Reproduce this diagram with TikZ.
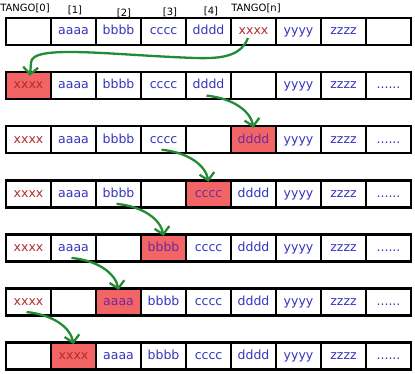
\documentclass[tikz,border=0pt]{standalone}
\usepackage{fontspec}
\setmainfont{DejaVu Sans}
\usetikzlibrary{arrows.meta, calc}

\definecolor{itemblue}{RGB}{52,52,190}
\definecolor{oldred}{RGB}{178,45,45}
\definecolor{hotfill}{RGB}{243,100,100}
\definecolor{hotpurple}{RGB}{112,40,160}
\definecolor{movegreen}{RGB}{34,139,52}

\newcommand{\sixdots}{......}

\tikzset{
  cell/.style={draw, line width=2.6pt, minimum width=45pt, minimum height=27pt,
    inner sep=0pt, text height=9.2pt, text depth=2.4pt, font=\fontsize{12.5}{14}\selectfont},
  itm/.style={text=itemblue},
  old/.style={text=oldred},
  hot/.style={fill=hotfill, text=hotpurple},
  hotold/.style={fill=hotfill, text=oldred},
  idx/.style={font=\fontsize{10}{12}\selectfont, inner sep=0pt},
  move/.style={draw=movegreen, line width=2.3pt, -{Straight Barb[length=7pt, width=15pt]}}
}

\begin{document}
\begin{tikzpicture}[x=1pt, y=-1pt]
    \useasboundingbox (0,0) rectangle (415,374);

    % Index labels
    \node[idx] (lab0) at (25,8.5) {TANGO[0]};
    \node[idx] (lab1) at (75,10.5) {[1]};
    \node[idx] (lab2) at (124,13) {[2]};
    \node[idx] (lab3) at (170,12) {[3]};
    \node[idx] (lab4) at (211,11) {[4]};
    \node[idx] (labn) at (256,8.5) {TANGO[n]};

    % Rows of cells
    \foreach \r/\cells in {
        1/{/itm, aaaa/itm, bbbb/itm, cccc/itm, dddd/itm, xxxx/old, yyyy/itm, zzzz/itm, /itm},
        2/{xxxx/hotold, aaaa/itm, bbbb/itm, cccc/itm, dddd/itm, /itm, yyyy/itm, zzzz/itm, \sixdots/itm},
        3/{xxxx/old, aaaa/itm, bbbb/itm, cccc/itm, /itm, dddd/hot, yyyy/itm, zzzz/itm, \sixdots/itm},
        4/{xxxx/old, aaaa/itm, bbbb/itm, /itm, cccc/hot, dddd/itm, yyyy/itm, zzzz/itm, \sixdots/itm},
        5/{xxxx/old, aaaa/itm, /itm, bbbb/hot, cccc/itm, dddd/itm, yyyy/itm, zzzz/itm, \sixdots/itm},
        6/{xxxx/old, /itm, aaaa/hot, bbbb/itm, cccc/itm, dddd/itm, yyyy/itm, zzzz/itm, \sixdots/itm},
        7/{/itm, xxxx/hotold, aaaa/itm, bbbb/itm, cccc/itm, dddd/itm, yyyy/itm, zzzz/itm, \sixdots/itm}}
      \foreach \t/\s [count=\c] in \cells
        \node[cell, \s] (c\r-\c) at ({28.5+45*(\c-1)}, {31.5+54.1*(\r-1)}) {\t};

    % First move: TANGO[n] back to TANGO[0]
    \coordinate (sweep) at (195,58);
    \draw[move] ($(c1-6.center)+(-5.5,6.5)$) .. controls +(-7,17) and +(30,1) .. (sweep)
        .. controls +(-85,-3) and +(0,-19) .. ($(c2-1.north)+(2.5,-8)$)
        -- ($(c2-1.north)+(1.5,5)$);

    % Shifts one cell to the right
    \foreach \a/\i/\b/\j in {2/5/3/6, 3/4/4/5, 4/3/5/4, 5/2/6/3, 6/1/7/2}
      \draw[move] ($(c\a-\i.center)+(-2,10)$) .. controls +(28,3) and +(-3,-16) .. ($(c\b-\j.center)+(0,-12)$);
\end{tikzpicture}
\end{document}
